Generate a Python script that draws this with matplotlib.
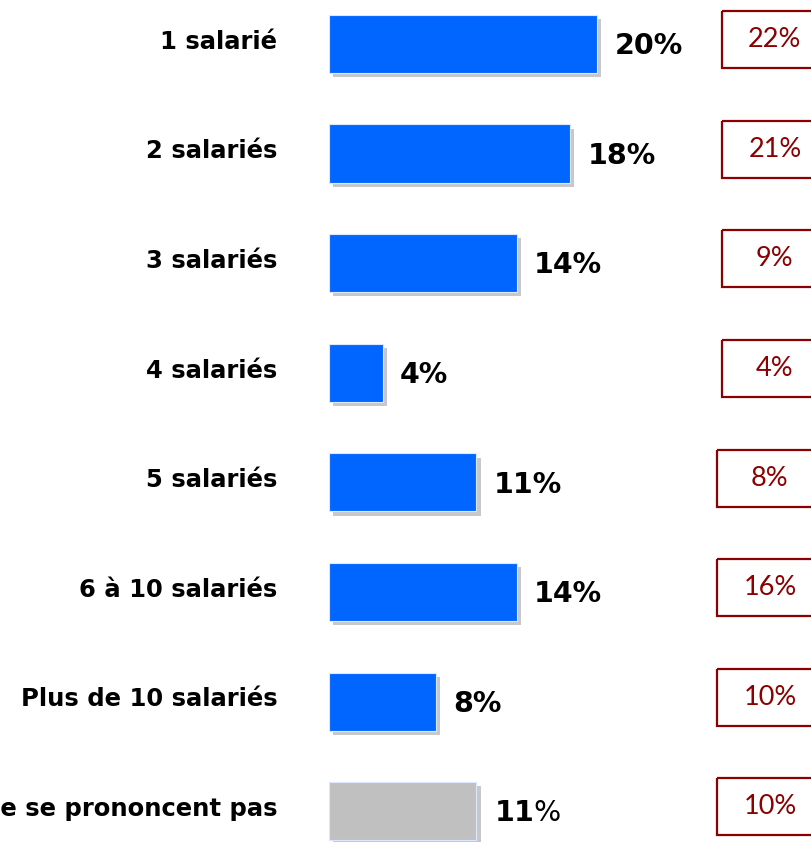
import matplotlib
matplotlib.use("Agg")
import matplotlib.pyplot as plt
from matplotlib.patches import Rectangle
import matplotlib.patheffects as pe

# catégories et valeurs
categories = ["1 salarié", "2 salariés", "3 salariés", "4 salariés", "5 salariés",
              "6 à 10 salariés", "Plus de 10 salariés", "Ne se prononcent pas"]
valeurs = [20, 18, 14, 4, 11, 14, 8, 11]
valeurs_precedentes = [22, 21, 9, 4, 8, 16, 10, 10]
couleurs = ["#0066FF"] * 7 + ["#C0C0C0"]

fig = plt.figure(figsize=(8.12, 8.42), dpi=100)
ax = fig.add_axes([0, 0, 1, 1])
ax.set_xlim(-24.55, 36.05)
ax.set_ylim(7.28, -0.40)
ax.axis("off")

y = list(range(len(categories)))
bars = ax.barh(y, valeurs, height=0.53, color=couleurs, edgecolor="#DDE8FF", linewidth=0.8)
for b in bars:
    b.set_path_effects([pe.SimplePatchShadow(offset=(3, -3), shadow_rgbFace="#C8C8C8", alpha=1),
                        pe.Normal()])

for i, (cat, v, p) in enumerate(zip(categories, valeurs, valeurs_precedentes)):
    # étiquette à gauche
    ax.text(-3.85, i - 0.02, cat, ha="right", va="center", fontsize=17.5, fontweight="bold",
            family="DejaVu Sans", color="black")
    # valeur de la barre
    if i < 7:
        txt = f"{v}%"
        poids = "bold"
    else:
        txt = f"$\\mathbf{{{v}}}$%"
        poids = "normal"
    ax.text(v + 1.3, i + 0.02, txt, ha="left", va="center", fontsize=20.5,
            fontweight=poids, family="DejaVu Sans", color="black")
    # encadré à droite
    x0 = 29.33 if i < 4 else 28.96
    ax.add_patch(Rectangle((x0, i - 0.30), 7.9, 0.52, fill=False, edgecolor="#8B0000", linewidth=1.6))
    ax.text(x0 + 3.95, i - 0.04, f"{p}%", ha="center", va="center", fontsize=19.5,
            family="Lato", color="#8B0000")

fig.savefig("out.png", dpi=100)
